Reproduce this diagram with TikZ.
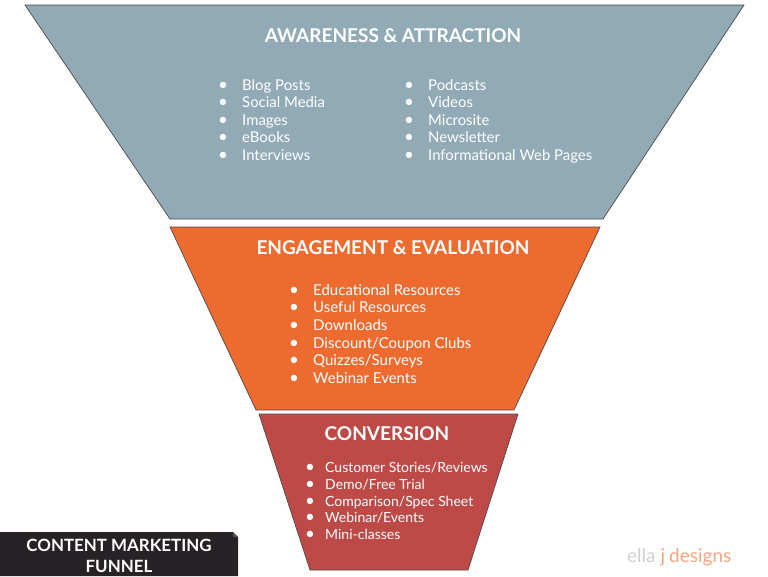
\documentclass[tikz,border=0pt]{standalone}
\usepackage{fontspec}
\setmainfont{Lato}
\definecolor{topc}{HTML}{91AAB6}
\definecolor{midc}{HTML}{EE6B30}
\definecolor{botc}{HTML}{BE4A48}
\definecolor{boxc}{HTML}{272225}
\definecolor{edgec}{HTML}{4A4A4A}
\definecolor{logog}{HTML}{CFCFCF}
\definecolor{logoo}{HTML}{F5A47E}
\tikzset{
  stage/.style={draw=edgec, line width=0.7pt},
  title/.style={text=white, inner sep=0pt, font=\fontsize{19}{21}\selectfont\bfseries},
  items/.style={text=white, inner sep=0pt, anchor=north west, align=left},
}
\newcommand{\bul}{{\fontsize{17}{17}\selectfont\textbullet}}
\newcommand{\itm}[1]{\makebox[24pt][l]{\bul}#1}
\newcommand{\itmb}[1]{\makebox[20pt][l]{\bul}#1}
\begin{document}
\begin{tikzpicture}[x=1pt,y=-1pt]
\useasboundingbox (0,0) rectangle (768,576);
% stages
\path[stage, fill=topc] (25,5) -- (744,5) -- (603,219) -- (170,219) -- cycle;
\path[stage, fill=midc] (170,227) -- (600,227) -- (514,410) -- (256,410) -- cycle;
\path[stage, fill=botc] (259,414) -- (518,414) -- (468,570) -- (310,570) -- cycle;
% titles
\node[title] (t1) at (393,36) {AWARENESS \& ATTRACTION};
\node[title] (t2) at (393,248) {ENGAGEMENT \& EVALUATION};
\node[title] (t3) at (387,434) {CONVERSION};
% lists
\node[items, font=\fontsize{14.9}{17.5}\selectfont] (l1) at (218,79)
  {\itm{Blog Posts}\\ \itm{Social Media}\\ \itm{Images}\\ \itm{eBooks}\\ \itm{Interviews}};
\node[items, font=\fontsize{14.9}{17.5}\selectfont] (l2) at (404,79)
  {\itm{Podcasts}\\ \itm{Videos}\\ \itm{Microsite}\\ \itm{Newsletter}\\ \itm{Informational Web Pages}};
\node[items, font=\fontsize{15}{17.6}\selectfont] (l3) at (289,284)
  {\itm{Educational Resources}\\ \itm{Useful Resources}\\ \itm{Downloads}\\ \itm{Discount/Coupon Clubs}\\ \itm{Quizzes/Surveys}\\ \itm{Webinar Events}};
\node[items, font=\fontsize{14}{16.8}\selectfont] (l4) at (305,462)
  {\itmb{Customer Stories/Reviews}\\ \itmb{Demo/Free Trial}\\ \itmb{Comparison/Spec Sheet}\\ \itmb{Webinar/Events}\\ \itmb{Mini-classes}};
% label box
\path[fill=boxc] (0,532) -- (233,532) -- (238,537) -- (238,576) -- (0,576) -- cycle;
\path[fill=gray!50!boxc] (233,532) -- (238,537) -- (233,537) -- cycle;
\node[text=white, align=center, inner sep=0pt, font=\fontsize{16.9}{20.5}\selectfont\bfseries] (lab) at (119,556)
  {CONTENT MARKETING\\FUNNEL};
% logo
\node[inner sep=0pt, anchor=base west, font=\fontsize{19}{20}\selectfont] (logo) at (627,562)
  {\textcolor{logog}{ella}\hspace{5pt}\textcolor{logoo}{j\hspace{4pt}designs}};
\end{tikzpicture}
\end{document}
